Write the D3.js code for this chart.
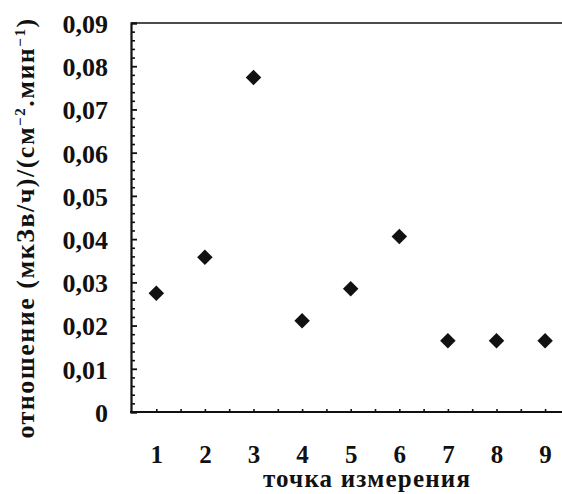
<!DOCTYPE html>
<html>
<head>
<meta charset="utf-8">
<script src="https://cdn.jsdelivr.net/npm/d3@7"></script>
<style>
  html, body { margin: 0; padding: 0; background: #fff; }
  svg { display: block; }
  text { font-family: "Liberation Serif", "DejaVu Serif", serif; font-weight: bold; fill: #111; }
</style>
</head>
<body>
<svg id="chart" width="562" height="494"></svg>
<script>
// ---- data ----
const points = [1, 2, 3, 4, 5, 6, 7, 8, 9];
const ratio = [0.0275, 0.0358, 0.0774, 0.0211, 0.0285, 0.0406, 0.0165, 0.0165, 0.0165];
const yTickValues = [0, 0.01, 0.02, 0.03, 0.04, 0.05, 0.06, 0.07, 0.08, 0.09];
const yTickLabels = ["0", "0,01", "0,02", "0,03", "0,04", "0,05", "0,06", "0,07", "0,08", "0,09"];
const xTickLabels = ["1", "2", "3", "4", "5", "6", "7", "8", "9"];
const xTitle = "точка измерения";

(function () {
const svg = d3.select("#chart");
const W = 562;
const mLeft = 132, mBottom = 412, mTop = 23;

const x = d3.scaleLinear().domain([0.5, 9.5]).range([mLeft, mLeft + 9 * 48.6]);
const y = d3.scaleLinear().domain([0, 0.09]).range([mBottom, mTop]);

// top frame line
svg.append("line")
  .attr("x1", mLeft - 1).attr("x2", W)
  .attr("y1", y(0.09)).attr("y2", y(0.09))
  .attr("stroke", "#111").attr("stroke-width", 1.5);

// y minor ticks
const minor = d3.range(0, 0.0901, 0.002).filter(v => Math.abs(Math.round(v * 100) - v * 100) > 1e-6);
const yMinor = d3.axisLeft(y).tickValues(minor).tickSize(-4).tickFormat("");
svg.append("g").attr("transform", `translate(${mLeft - 1},0)`).call(yMinor)
  .call(g => g.select(".domain").remove())
  .call(g => g.selectAll("line").attr("stroke", "#111").attr("stroke-width", 1.6));

// y major axis
const yAxis = d3.axisLeft(y).tickValues(yTickValues).tickSize(-6).tickPadding(0)
  .tickFormat((d, i) => yTickLabels[i]);
const gy = svg.append("g").attr("transform", `translate(${mLeft - 1},0)`).call(yAxis);
gy.attr("font-family", null).attr("font-size", null);
gy.select(".domain").attr("stroke", "#111").attr("stroke-width", 2.2);
gy.selectAll(".tick line").attr("stroke", "#111").attr("stroke-width", 1.8);
gy.selectAll(".tick text")
  .attr("x", -23).attr("dy", "0.36em").attr("fill", null)
  .style("font-size", "26px");

// x axis: small ticks every 0.5, labels at integers
const xMinor = d3.range(1, 10, 0.5);
const xAxisMinor = d3.axisBottom(x).tickValues(xMinor).tickSize(-3).tickFormat("");
const gxm = svg.append("g").attr("transform", `translate(0,${mBottom})`).call(xAxisMinor);
gxm.select(".domain").remove();
gxm.selectAll("line").attr("stroke", "#111").attr("stroke-width", 1.6);

const xAxis = d3.axisBottom(x).tickValues(points).tickSize(0).tickPadding(0)
  .tickFormat((d, i) => xTickLabels[i]);
const gx = svg.append("g").attr("transform", `translate(0,${mBottom})`).call(xAxis);
gx.attr("font-family", null).attr("font-size", null);
gx.select(".domain").remove();
svg.append("line")
  .attr("x1", mLeft - 2).attr("x2", W)
  .attr("y1", mBottom).attr("y2", mBottom)
  .attr("stroke", "#111").attr("stroke-width", 2.2);
gx.selectAll(".tick text")
  .attr("y", 41.5).attr("dy", "0.36em").attr("fill", null)
  .style("font-size", "25px");

// axis titles
svg.append("text")
  .attr("x", 367).attr("y", 487)
  .attr("text-anchor", "middle")
  .style("font-size", "25px").style("letter-spacing", "1.2px")
  .text(xTitle);

const yt = svg.append("text")
  .attr("transform", "translate(34,228) rotate(-90)")
  .attr("text-anchor", "middle")
  .style("font-size", "26px").style("letter-spacing", "1.5px");
yt.append("tspan").text("отношение (мкЗв/ч)/(см");
yt.append("tspan").attr("dy", -9).style("font-size", "15px").text("−2");
yt.append("tspan").attr("dy", 9).text(".мин");
yt.append("tspan").attr("dy", -9).style("font-size", "15px").text("−1");
yt.append("tspan").attr("dy", 9).text(")");

// points
const sym = d3.symbol().type(d3.symbolSquare).size(120);
svg.append("g").selectAll("path")
  .data(points)
  .join("path")
  .attr("d", sym)
  .attr("transform", (d, i) => `translate(${x(d)},${y(ratio[i])}) rotate(45)`)
  .attr("fill", "#111");
})();
</script>
</body>
</html>
